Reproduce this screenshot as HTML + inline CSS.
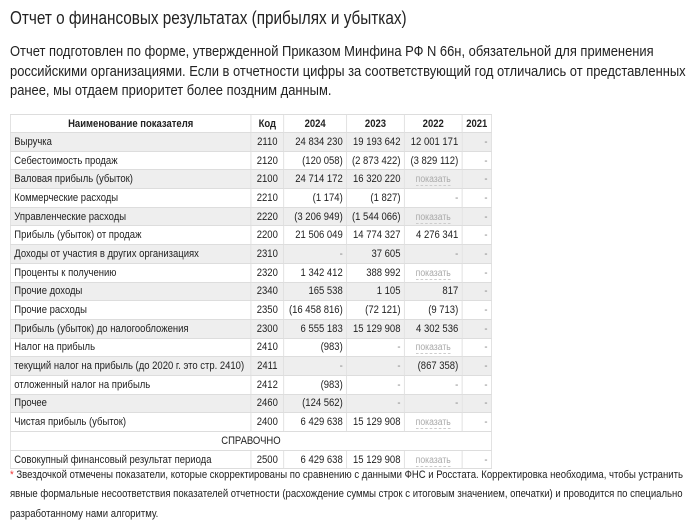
<!DOCTYPE html>
<html><head><meta charset="utf-8"><style>
body{margin:0;width:700px;height:525px;background:#fff;font-family:"Liberation Sans",Arial,sans-serif;color:#222;position:relative;overflow:hidden}
h1{position:absolute;left:10px;top:8px;margin:0;font-size:18px;font-weight:normal;white-space:nowrap;transform:scaleX(0.85);transform-origin:0 0}
p.i{position:absolute;left:10px;top:43px;margin:0;width:790px;font-size:14.6px;line-height:19.5px;transform:scaleX(0.886);transform-origin:0 0}
table{position:absolute;left:10px;top:114px;border-collapse:collapse;font-size:11px;table-layout:fixed;width:558px;transform:scaleX(0.862);transform-origin:0 0}
td,th{border:1px solid #ddd;padding:0 4px;height:17.7px;white-space:nowrap;overflow:hidden}
th{font-weight:bold;text-align:center;height:17px}
tr:nth-child(even) td{background:#eee}
td.n{text-align:right}
td.c{text-align:center}
td.d{text-align:right;color:#888}
.s{color:#aaa;font-size:10px;border-bottom:1px dashed #ccc}
.f{position:absolute;left:10px;top:466px;width:815px;font-size:11.3px;line-height:19.3px;margin:0;transform:scaleX(0.845);transform-origin:0 0}
.f b{color:#e33;font-weight:normal}
</style></head><body>
<h1>Отчет о финансовых результатах (прибылях и убытках)</h1>
<p class="i">Отчет подготовлен по форме, утвержденной Приказом Минфина РФ N 66н, обязательной для применения<br>российскими организациями. Если в отчетности цифры за соответствующий год отличались от представленных<br>ранее, мы отдаем приоритет более поздним данным.</p>
<table>
<colgroup><col style="width:279px"><col style="width:38px"><col style="width:73px"><col style="width:67px"><col style="width:67px"><col style="width:34px"></colgroup>
<tr><th>Наименование показателя</th><th>Код</th><th>2024</th><th>2023</th><th>2022</th><th>2021</th></tr>
<tr><td>Выручка</td><td class="c">2110</td><td class="n">24 834 230</td><td class="n">19 193 642</td><td class="n">12 001 171</td><td class="d">-</td></tr>
<tr><td>Себестоимость продаж</td><td class="c">2120</td><td class="n">(120 058)</td><td class="n">(2 873 422)</td><td class="n">(3 829 112)</td><td class="d">-</td></tr>
<tr><td>Валовая прибыль (убыток)</td><td class="c">2100</td><td class="n">24 714 172</td><td class="n">16 320 220</td><td class="c"><span class="s">показать</span></td><td class="d">-</td></tr>
<tr><td>Коммерческие расходы</td><td class="c">2210</td><td class="n">(1 174)</td><td class="n">(1 827)</td><td class="d">-</td><td class="d">-</td></tr>
<tr><td>Управленческие расходы</td><td class="c">2220</td><td class="n">(3 206 949)</td><td class="n">(1 544 066)</td><td class="c"><span class="s">показать</span></td><td class="d">-</td></tr>
<tr><td>Прибыль (убыток) от продаж</td><td class="c">2200</td><td class="n">21 506 049</td><td class="n">14 774 327</td><td class="n">4 276 341</td><td class="d">-</td></tr>
<tr><td>Доходы от участия в других организациях</td><td class="c">2310</td><td class="d">-</td><td class="n">37 605</td><td class="d">-</td><td class="d">-</td></tr>
<tr><td>Проценты к получению</td><td class="c">2320</td><td class="n">1 342 412</td><td class="n">388 992</td><td class="c"><span class="s">показать</span></td><td class="d">-</td></tr>
<tr><td>Прочие доходы</td><td class="c">2340</td><td class="n">165 538</td><td class="n">1 105</td><td class="n">817</td><td class="d">-</td></tr>
<tr><td>Прочие расходы</td><td class="c">2350</td><td class="n">(16 458 816)</td><td class="n">(72 121)</td><td class="n">(9 713)</td><td class="d">-</td></tr>
<tr><td>Прибыль (убыток) до налогообложения</td><td class="c">2300</td><td class="n">6 555 183</td><td class="n">15 129 908</td><td class="n">4 302 536</td><td class="d">-</td></tr>
<tr><td>Налог на прибыль</td><td class="c">2410</td><td class="n">(983)</td><td class="d">-</td><td class="c"><span class="s">показать</span></td><td class="d">-</td></tr>
<tr><td>текущий налог на прибыль (до 2020 г. это стр. 2410)</td><td class="c">2411</td><td class="d">-</td><td class="d">-</td><td class="n">(867 358)</td><td class="d">-</td></tr>
<tr><td>отложенный налог на прибыль</td><td class="c">2412</td><td class="n">(983)</td><td class="d">-</td><td class="d">-</td><td class="d">-</td></tr>
<tr><td>Прочее</td><td class="c">2460</td><td class="n">(124 562)</td><td class="d">-</td><td class="d">-</td><td class="d">-</td></tr>
<tr><td>Чистая прибыль (убыток)</td><td class="c">2400</td><td class="n">6 429 638</td><td class="n">15 129 908</td><td class="c"><span class="s">показать</span></td><td class="d">-</td></tr>
<tr><td colspan="6" class="c" style="background:#fff">СПРАВОЧНО</td></tr>
<tr><td style="background:#fff">Совокупный финансовый результат периода</td><td class="c" style="background:#fff">2500</td><td class="n" style="background:#fff">6 429 638</td><td class="n" style="background:#fff">15 129 908</td><td class="c" style="background:#fff"><span class="s">показать</span></td><td class="d" style="background:#fff">-</td></tr>
</table>
<p class="f"><b>*</b> Звездочкой отмечены показатели, которые скорректированы по сравнению с данными ФНС и Росстата. Корректировка необходима, чтобы устранить явные формальные несоответствия показателей отчетности (расхождение суммы строк с итоговым значением, опечатки) и проводится по специально разработанному нами алгоритму.</p>
</body></html>
